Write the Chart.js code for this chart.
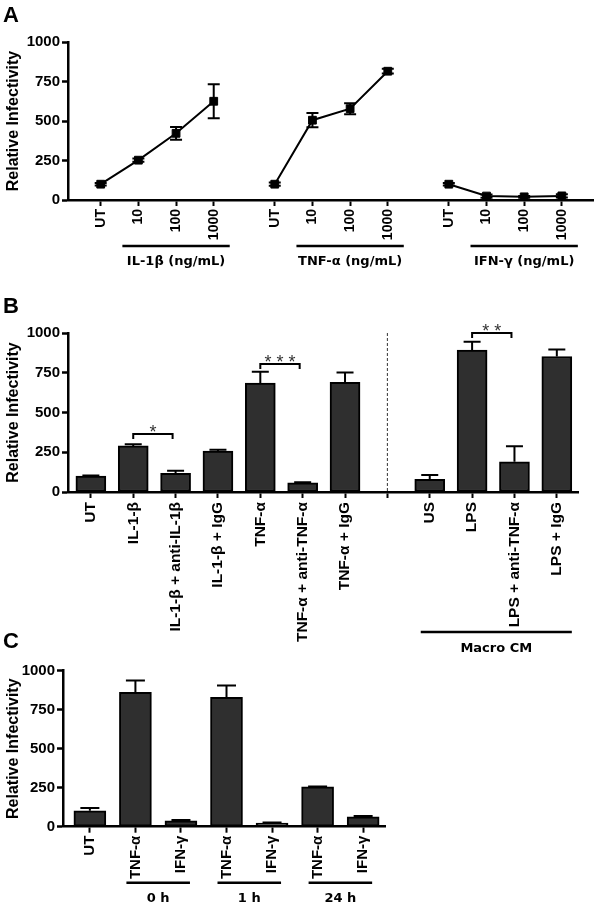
<!DOCTYPE html>
<html><head><meta charset="utf-8">
<script src="https://cdn.jsdelivr.net/npm/chart.js@4.4.0/dist/chart.umd.min.js"></script>
<style>
html,body{margin:0;padding:0;background:#fff;width:600px;height:907px;overflow:hidden}
.p{position:absolute;left:0;width:600px}
canvas{display:block}
</style></head><body>
<div class="p" style="top:0;height:280px"><canvas id="cA" width="600" height="280"></canvas></div>
<div class="p" style="top:280px;height:380px"><canvas id="cB" width="600" height="380"></canvas></div>
<div class="p" style="top:620px;height:287px"><canvas id="cC" width="600" height="287"></canvas></div>
<script>
// ---------- DATA ----------
const yTickValues = [0, 250, 500, 750, 1000];
const yTitle = 'Relative Infectivity';

// Panel A
const doseLabels = ['UT', '10', '100', '1000'];
const groupNamesA = ['IL-1β (ng/mL)', 'TNF-α (ng/mL)', 'IFN-γ (ng/mL)'];
const il1bMean = [100, 252, 422, 625];
const il1bErr  = [8, 10, 40, 108];
const tnfMean  = [100, 505, 578, 815];
const tnfErr   = [10, 45, 35, 15];
const ifngMean = [100, 25, 20, 26];
const ifngErr  = [8, 10, 6, 10];

// Panel B
const categoriesB = ['UT', 'IL-1-β', 'IL-1-β + anti-IL-1β', 'IL-1-β + IgG', 'TNF-α', 'TNF-α + anti-TNF-α', 'TNF-α + IgG', '', 'US', 'LPS', 'LPS + anti-TNF-α', 'LPS + IgG'];
const meansB = [100, 290, 117, 258, 685, 57, 690, null, 80, 893, 190, 852];
const errsB  = [3, 10, 17, 8, 72, 4, 62, null, 27, 52, 97, 45];
const sigFromB  = [1, 4, 9];
const sigToB    = [2, 5, 10];
const sigLevelB = [365, 805, 1000];
const sigTextB  = ['*', '* * *', '* *'];
const groupLabelB = 'Macro CM';
const groupFromB = 8, groupToB = 11;
const dividerIndexB = 7;

// Panel C
const categoriesC = ['UT', 'TNF-α', 'IFN-γ', 'TNF-α', 'IFN-γ', 'TNF-α', 'IFN-γ'];
const meansC = [102, 862, 37, 830, 23, 255, 63];
const errsC  = [18, 75, 6, 75, 4, 3, 5];
const groupLabelsC = ['0 h', '1 h', '24 h'];
const groupFromC = [1, 3, 5];
const groupToC   = [2, 4, 6];

// ---------- STYLE / LAYOUT ----------
const TICK_FONT = '"Liberation Sans", Arial, sans-serif';
const GROUP_FONT = 'bold 13px "DejaVu Sans", sans-serif';
const GROUP_GAP = 1.62;
const BAR_FILL = '#2f2f2f';

function yScale(width) {
  return {
    min: 0, max: 1000,
    afterBuildTicks: s => { s.ticks = yTickValues.map(v => ({ value: v })); },
    afterFit: s => { s.width = width; },
    grid: { display: true, drawOnChartArea: false, drawTicks: true, tickLength: 6, tickWidth: 2.5, tickColor: '#000' },
    border: { display: true, color: '#000', width: 2.5 },
    ticks: { color: '#000', font: { family: TICK_FONT, weight: 'bold', size: 15 }, padding: 2,
      callback: v => String(v) },
    title: { display: true, text: yTitle, color: '#000', font: { family: TICK_FONT, weight: 'bold', size: 16 }, padding: { top: 4, bottom: 4 } }
  };
}
function xScale(min, max, positions, labels, height, fontSize, pad) {
  return {
    type: 'linear', min: min, max: max, offset: false,
    afterBuildTicks: s => { s.ticks = positions.map(v => ({ value: v })); },
    afterFit: s => { s.height = height; },
    grid: { display: true, offset: false, drawOnChartArea: false, drawTicks: true, tickLength: 6, tickWidth: 2, tickColor: '#000' },
    border: { display: true, color: '#000', width: 2.5 },
    ticks: { autoSkip: false, minRotation: 90, maxRotation: 90, color: '#000', padding: pad,
      font: { family: TICK_FONT, weight: 'bold', size: fontSize },
      callback: (v, i) => labels[i] }
  };
}

const errorBars = {
  id: 'errorBars',
  afterDatasetsDraw(chart) {
    const ctx = chart.ctx, ys = chart.scales.y;
    chart.data.datasets.forEach((ds, di) => {
      if (!ds.errors) return;
      const meta = chart.getDatasetMeta(di);
      meta.data.forEach((el, i) => {
        const v = ds.data[i].y, e = ds.errors[i];
        if (v == null || !e) return;
        const x = el.x, cap = ds.capWidth / 2;
        const yt = ys.getPixelForValue(v + e);
        const yb = ds.bothSides ? ys.getPixelForValue(v - e) : ys.getPixelForValue(v);
        ctx.save();
        ctx.strokeStyle = '#000'; ctx.lineWidth = 2;
        ctx.beginPath();
        ctx.moveTo(x, yb); ctx.lineTo(x, yt);
        ctx.moveTo(x - cap, yt); ctx.lineTo(x + cap, yt);
        if (ds.bothSides) { ctx.moveTo(x - cap, yb); ctx.lineTo(x + cap, yb); }
        ctx.stroke();
        ctx.restore();
      });
    });
  }
};

function drawLetter(ctx, letter, baseY) {
  ctx.save();
  ctx.fillStyle = '#000';
  ctx.font = 'bold 22px ' + TICK_FONT;
  ctx.textAlign = 'left'; ctx.textBaseline = 'alphabetic';
  ctx.fillText(letter, 3, baseY);
  ctx.restore();
}
function drawGroup(ctx, x1, x2, lineY, text, textY) {
  ctx.save();
  ctx.strokeStyle = '#000'; ctx.lineWidth = 2.5;
  ctx.beginPath(); ctx.moveTo(x1, lineY); ctx.lineTo(x2, lineY); ctx.stroke();
  ctx.fillStyle = '#000'; ctx.font = GROUP_FONT;
  ctx.textAlign = 'center'; ctx.textBaseline = 'middle';
  ctx.fillText(text, (x1 + x2) / 2, textY);
  ctx.restore();
}

const common = {
  responsive: false, animation: false,
  plugins: { legend: { display: false }, tooltip: { enabled: false } }
};

// ---------- PANEL A ----------
const seriesA = [il1bMean, tnfMean, ifngMean];
const errA = [il1bErr, tnfErr, ifngErr];
const stride = doseLabels.length - 1 + GROUP_GAP;
const posA = [], labA = [];
seriesA.forEach((s, g) => doseLabels.forEach((d, i) => { posA.push(g * stride + i); labA.push(d); }));

new Chart(document.getElementById('cA'), {
  type: 'line',
  data: {
    datasets: seriesA.map((s, g) => ({
      data: s.map((v, i) => ({ x: g * stride + i, y: v })),
      errors: errA[g], bothSides: true, capWidth: 12,
      borderColor: '#000', borderWidth: 2, tension: 0,
      pointStyle: 'rect', pointRadius: 5.5, pointBackgroundColor: '#000', pointBorderColor: '#000', pointBorderWidth: 1
    }))
  },
  options: Object.assign({}, common, {
    layout: { padding: { top: 42, left: 0, right: 3, bottom: 0 } },
    scales: { x: xScale(-0.868, 13.08, posA, labA, 80, 14, 3), y: yScale(68) }
  }),
  plugins: [errorBars, {
    id: 'decorA',
    afterDraw(chart) {
      const ctx = chart.ctx, xs = chart.scales.x, b = chart.chartArea.bottom;
      drawLetter(ctx, 'A', 22);
      groupNamesA.forEach((name, g) => {
        const x1 = xs.getPixelForValue(g * stride + 1) - 16;
        const x2 = xs.getPixelForValue(g * stride + doseLabels.length - 1) + 16;
        drawGroup(ctx, x1, x2, b + 46, name, b + 62);
      });
    }
  }]
});

// ---------- PANEL B ----------
const posB = categoriesB.map((c, i) => i);
new Chart(document.getElementById('cB'), {
  type: 'bar',
  data: {
    datasets: [{
      data: meansB.map((v, i) => ({ x: i, y: v })),
      errors: errsB, capWidth: 17,
      backgroundColor: BAR_FILL, borderColor: '#000', borderWidth: 2, borderSkipped: false,
      barThickness: 30
    }]
  },
  options: Object.assign({}, common, {
    layout: { padding: { top: 53, left: 0, right: 22, bottom: 0 } },
    scales: { x: xScale(-0.54, 11.5, posB, categoriesB, 168, 15.5, 4), y: yScale(68) }
  }),
  plugins: [errorBars, {
    id: 'decorB',
    afterDraw(chart) {
      const ctx = chart.ctx, xs = chart.scales.x, ys = chart.scales.y, b = chart.chartArea.bottom;
      drawLetter(ctx, 'B', 33);
      // divider
      const dx = xs.getPixelForValue(dividerIndexB);
      ctx.save();
      ctx.strokeStyle = '#333'; ctx.lineWidth = 1; ctx.setLineDash([3, 2]);
      ctx.beginPath(); ctx.moveTo(dx, ys.getPixelForValue(1000)); ctx.lineTo(dx, b); ctx.stroke();
      ctx.restore();
      // significance brackets
      sigFromB.forEach((a, k) => {
        const x1 = xs.getPixelForValue(a), x2 = xs.getPixelForValue(sigToB[k]) - 3;
        const y = ys.getPixelForValue(sigLevelB[k]);
        ctx.save();
        ctx.strokeStyle = '#000'; ctx.lineWidth = 2;
        ctx.beginPath();
        ctx.moveTo(x1, y + 5); ctx.lineTo(x1, y); ctx.lineTo(x2, y); ctx.lineTo(x2, y + 5);
        ctx.stroke();
        ctx.fillStyle = '#333'; ctx.font = '18px ' + TICK_FONT;
        ctx.textAlign = 'center'; ctx.textBaseline = 'alphabetic';
        ctx.fillText(sigTextB[k], (x1 + x2) / 2, y + 4);
        ctx.restore();
      });
      const gx1 = xs.getPixelForValue(groupFromB) - 9, gx2 = xs.getPixelForValue(groupToB) + 15;
      drawGroup(ctx, gx1, gx2, b + 140, groupLabelB, b + 157);
    }
  }]
});

// ---------- PANEL C ----------
const posC = categoriesC.map((c, i) => i);
new Chart(document.getElementById('cC'), {
  type: 'bar',
  data: {
    datasets: [{
      data: meansC.map((v, i) => ({ x: i, y: v })),
      errors: errsC, capWidth: 19,
      backgroundColor: BAR_FILL, borderColor: '#000', borderWidth: 2, borderSkipped: false,
      barThickness: 32
    }]
  },
  options: Object.assign({}, common, {
    layout: { padding: { top: 50.7, left: 0, right: 215, bottom: 0 } },
    scales: { x: xScale(-0.59, 6.48, posC, categoriesC, 80.3, 15, 3), y: yScale(63) }
  }),
  plugins: [errorBars, {
    id: 'decorC',
    afterDraw(chart) {
      const ctx = chart.ctx, xs = chart.scales.x, b = chart.chartArea.bottom;
      drawLetter(ctx, 'C', 28);
      groupLabelsC.forEach((name, g) => {
        const x1 = xs.getPixelForValue(groupFromC[g]) - 9;
        const x2 = xs.getPixelForValue(groupToC[g]) + 9;
        drawGroup(ctx, x1, x2, b + 56, name, b + 72);
      });
    }
  }]
});
</script>
</body></html>
